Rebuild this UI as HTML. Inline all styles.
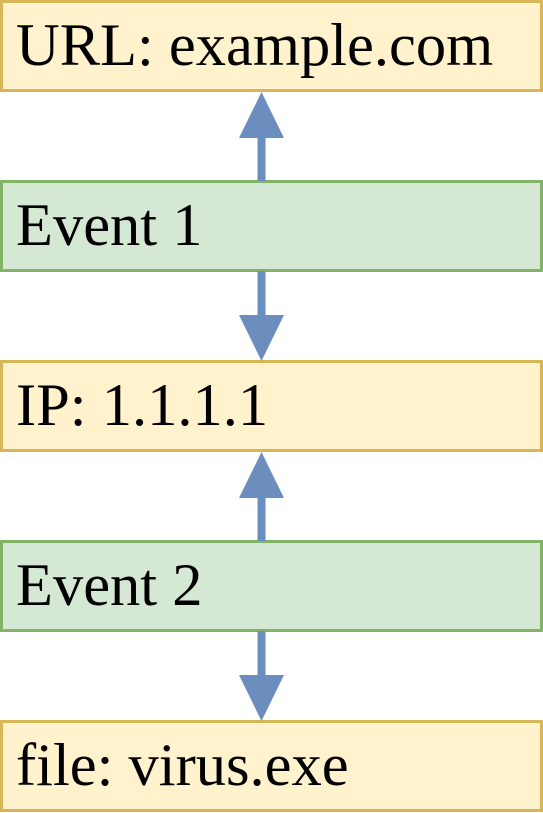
<!DOCTYPE html>
<html><head><style>
body{margin:0;width:543px;height:813px;background:#fff;position:relative;overflow:hidden}
.b{position:absolute;left:0;width:524px;height:86px;border:3px solid;display:flex;align-items:center;padding-left:13px;box-sizing:content-box;font-family:"Liberation Serif","Times New Roman","DejaVu Serif",serif;font-size:60.5px;color:#000;line-height:1}
.y{background:#fff2cc;border-color:#d6b656}
.g{background:#d5e8d4;border-color:#82b366}
svg{position:absolute;left:0;top:0}
</style></head><body>
<div class="b y" style="top:0">URL: example.com</div>
<div class="b g" style="top:180px">Event 1</div>
<div class="b y" style="top:360px">IP: 1.1.1.1</div>
<div class="b g" style="top:540px">Event 2</div>
<div class="b y" style="top:720px">file: virus.exe</div>
<svg width="543" height="813">
<g fill="#6c8ebf" stroke="none">
<rect x="257.5" y="130" width="8" height="51"/>
<polygon points="261.5,92 239,138 284,138"/>
<rect x="257.5" y="271" width="8" height="50"/>
<polygon points="261.5,361 239,315 284,315"/>
<rect x="257.5" y="490" width="8" height="51"/>
<polygon points="261.5,452 239,498 284,498"/>
<rect x="257.5" y="631" width="8" height="50"/>
<polygon points="261.5,721 239,675 284,675"/>
</g>
</svg>
</body></html>
